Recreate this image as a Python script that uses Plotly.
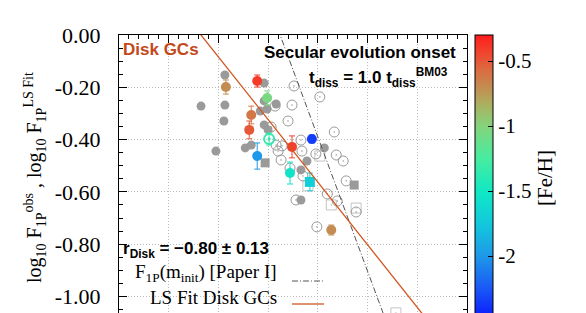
import plotly.graph_objects as go
from plotly.colors import sample_colorscale

# ---------------- data ----------------
Y_TICKS = [0.0, -0.2, -0.4, -0.6, -0.8, -1.0]
Y_TICK_TEXT = ["0.00", "-0.20", "-0.40", "-0.60", "-0.80", "-1.00"]
CB_TICKS = [-0.5, -1.0, -1.5, -2.0, -2.5]
CB_TICK_TEXT = ["-0.5", "-1", "-1.5", "-2", "-2.5"]

# grey filled circles
GF_X = [2.13, 1.65, 2.13, 2.11, 1.95, 2.92, 2.92, 3.16, 2.84, 2.98, 2.92, 3.00,
        2.54, 2.66, 4.13, 3.78, 3.66, 3.66]
GF_Y = [-0.153, -0.272, -0.268, -0.329, -0.444, -0.184, -0.252, -0.264, -0.291,
        -0.283, -0.344, -0.363, -0.432, -0.421, -0.432, -0.482, -0.516, -0.631]

# grey open circles
GO_X = [3.52, 4.04, 3.48, 3.14, 3.40, 3.06, 4.33, 3.66, 3.16, 3.28, 3.20, 3.68,
        3.96, 4.37, 4.51, 3.26, 3.70, 4.57, 4.19, 4.39, 3.56, 4.77, 3.98, 3.44]
GO_Y = [-0.195, -0.237, -0.268, -0.272, -0.329, -0.352, -0.371, -0.402, -0.421,
        -0.424, -0.444, -0.444, -0.455, -0.459, -0.482, -0.478, -0.539, -0.558,
        -0.608, -0.635, -0.631, -0.677, -0.734, -0.509]

# grey filled squares
GS_X = [2.94, 4.73]
GS_Y = [-0.489, -0.574]

# light grey open squares
OS_X = [4.04, 3.80, 4.27, 4.77, 5.57]
OS_Y = [-0.463, -0.577, -0.650, -0.662, -1.063]

# triangles on the upper edge
TRI_X = [0.74, 0.97, 1.07, 1.29, 1.41, 1.67, 1.91]
TRI_Y = [0.008, 0.008, 0.008, 0.008, 0.008, 0.008, 0.008]

# coloured filled circles ([Fe/H]) with errors
CC_X = [2.78, 2.15, 2.98, 2.66, 2.62, 3.48, 3.88, 2.78, 3.44, 4.27]
CC_Y = [-0.176, -0.199, -0.241, -0.306, -0.363, -0.428, -0.398, -0.463, -0.528, -0.746]
CC_FEH = [-0.40, -0.70, -1.05, -0.62, -0.50, -0.42, -2.35, -2.00, -1.55, -0.70]
CC_ERR = [0.023, 0.027, 0.027, 0.034, 0.034, 0.042, 0.015, 0.050, 0.042, 0.019]

# coloured open circle
CO_X = [3.02]
CO_Y = [-0.398]
CO_FEH = [-1.35]
CO_ERR = [0.023]

# coloured filled square
CS_X = [3.84]
CS_Y = [-0.562]
CS_FEH = [-1.70]
CS_ERR = [0.034]

# LS fit (disk GCs) and Paper I relation
FIT_SLOPE = -0.2395
FIT_INTERCEPT = 0.395
FIT_X = [0.0, 7.0]
P1_X = [3.20, 4.30, 5.40]
P1_Y = [0.021, -0.544, -1.109]

CMIN, CMAX = -2.5, -0.3
COLORSCALE = [
    [0.00, "#0a14ff"], [0.12, "#1a5cf5"], [0.23, "#1e9ae8"], [0.34, "#12c8dc"],
    [0.45, "#10e8c4"], [0.57, "#48eca0"], [0.68, "#84d47c"], [0.75, "#a8b462"],
    [0.818, "#c48c52"], [0.88, "#dc6a40"], [0.93, "#ee4a30"], [1.00, "#ff1c1c"],
]

SERIF = "Liberation Serif"
SANS = "Liberation Sans"
GREY = "#9a9a9a"

fig = go.Figure()

fig.add_trace(go.Scatter(x=OS_X, y=OS_Y, mode="markers",
                         marker=dict(symbol="square-open-dot", size=10,
                                     color="#c4c4c4", line=dict(width=1))))
fig.add_trace(go.Scatter(x=GO_X, y=GO_Y, mode="markers",
                         marker=dict(symbol="circle-open-dot", size=10,
                                     color=GREY, line=dict(width=1))))
fig.add_trace(go.Scatter(x=GS_X, y=GS_Y, mode="markers",
                         marker=dict(symbol="square", size=9, color=GREY)))
fig.add_trace(go.Scatter(x=GF_X, y=GF_Y, mode="markers",
                         marker=dict(symbol="circle", size=9, color=GREY)))
fig.add_trace(go.Scatter(x=TRI_X, y=TRI_Y, mode="markers", cliponaxis=False,
                         marker=dict(symbol="triangle-up", size=8, color=GREY)))


def err_color(v):
    return sample_colorscale(COLORSCALE, [(v - CMIN) / (CMAX - CMIN)])[0]


def add_coloured(xs, ys, fehs, errs, symbol, size, lw):
    for x, y, f, e in zip(xs, ys, fehs, errs):
        fig.add_trace(go.Scatter(
            x=[x], y=[y], mode="markers",
            marker=dict(symbol=symbol, size=size, color=[f], coloraxis="coloraxis",
                        line=dict(width=lw)),
            error_y=dict(type="data", array=[e], color=err_color(f),
                         thickness=1, width=3)))


add_coloured(CC_X, CC_Y, CC_FEH, CC_ERR, "circle", 10, 0)
add_coloured(CO_X, CO_Y, CO_FEH, CO_ERR, "circle-open-dot", 10, 2)
add_coloured(CS_X, CS_Y, CS_FEH, CS_ERR, "square", 10, 0)

fig.add_trace(go.Scatter(x=P1_X, y=P1_Y, mode="lines",
                         line=dict(color="#555555", width=1, dash="6px,2px,1px,2px")))
fig.add_trace(go.Scatter(x=FIT_X, y=[FIT_INTERCEPT + FIT_SLOPE * v for v in FIT_X],
                         mode="lines", line=dict(color="#d0561e", width=1.3)))

# ---------------- layout ----------------
L, R, T, W, H = 111, 459, 27, 586, 313
PW, PH = R - L, H - T


def px(xp):
    return (xp - L) / PW


def py(yp):
    return (H - yp) / PH


axis_common = dict(showline=True, linecolor="black", linewidth=1, mirror="allticks",
                   ticks="inside", ticklen=8, tickcolor="black", showgrid=True,
                   gridcolor="#bcbcbc", griddash="1px,2px", gridwidth=1, zeroline=False)

fig.update_layout(
    width=W, height=H,
    margin=dict(l=L, r=W - R, t=T, b=0, pad=0),
    plot_bgcolor="white", paper_bgcolor="white",
    showlegend=False,
    xaxis=dict(range=[0, 7], tick0=0, dtick=1, showticklabels=False,
               minor=dict(dtick=0.2, ticks="inside", ticklen=4, tickcolor="black",
                          showgrid=False),
               **axis_common),
    yaxis=dict(range=[-1.094, 0], tickmode="array", tickvals=Y_TICKS,
               ticktext=Y_TICK_TEXT, tickfont=dict(family=SERIF, size=22, color="black"),
               ticklabelstandoff=13,
               minor=dict(tick0=0, dtick=0.05, ticks="inside", ticklen=4,
                          tickcolor="black", showgrid=False),
               **axis_common),
    coloraxis=dict(
        cmin=CMIN, cmax=CMAX, colorscale=COLORSCALE,
        colorbar=dict(
            x=px(467), xanchor="left", y=0.5, yanchor="middle",
            len=1, lenmode="fraction", thickness=18, thicknessmode="pixels",
            xpad=0, ypad=0, outlinewidth=1, outlinecolor="black",
            ticks="inside", ticklen=5, tickcolor="black",
            tickmode="array", tickvals=CB_TICKS, ticktext=CB_TICK_TEXT,
            tickfont=dict(family=SERIF, size=21, color="black"),
            title=dict(text="[Fe/H]", side="right",
                       font=dict(family=SERIF, size=21, color="black")),
        ),
    ),
)

# legend box and samples
fig.add_shape(type="rect", xref="paper", yref="paper", x0=0, x1=px(330), y0=0,
              y1=py(258), fillcolor="white", line=dict(width=0), layer="between")
fig.add_shape(type="line", xref="paper", yref="paper", x0=px(284), x1=px(316),
              y0=py(273), y1=py(273), line=dict(color="#555555", width=1,
                                                  dash="6px,2px,1px,2px"))
fig.add_shape(type="line", xref="paper", yref="paper", x0=px(284), x1=px(316),
              y0=py(296), y1=py(296), line=dict(color="#d0561e", width=1.3))

ann = [
    dict(text="F<sub>1P</sub>(m<sub>init</sub>) [Paper I]", x=px(271), y=py(265),
         xanchor="right", yanchor="middle", font=dict(family=SERIF, size=19)),
    dict(text="LS Fit Disk GCs", x=px(271), y=py(289), xanchor="right",
         yanchor="middle", font=dict(family=SERIF, size=19)),
    dict(text="<b>Disk GCs</b>", x=px(113), y=py(42), xanchor="left", yanchor="middle",
         font=dict(family=SANS, size=17, color="#c2491a")),
    dict(text="<b>Secular evolution onset</b>", x=px(450), y=py(45), xanchor="right",
         yanchor="middle", font=dict(family=SANS, size=17)),
    dict(text="<b>t<sub>diss</sub> = 1.0 t<sub>diss</sub><sup>BM03</sup></b>", x=px(442),
         y=py(70), xanchor="right", yanchor="middle", font=dict(family=SANS, size=17)),
    dict(text="<b>r<sub>Disk</sub> = \u22120.80 \u00b1 0.13</b>", x=px(113), y=py(242),
         xanchor="left", yanchor="middle", font=dict(family=SANS, size=17)),
    dict(text="log<sub>10</sub> F<sub>1P</sub><sup>obs</sup> , log<sub>10</sub> "
              "F<sub>1P</sub><sup>LS Fit</sup>",
         x=px(27), y=0.5, xanchor="center", yanchor="middle", textangle=-90,
         font=dict(family=SERIF, size=20)),
]
for a in ann:
    a.setdefault("showarrow", False)
    a.setdefault("xref", "paper")
    a.setdefault("yref", "paper")
    a["font"].setdefault("color", "black")
    fig.add_annotation(**a)

fig.write_html("out.html")
